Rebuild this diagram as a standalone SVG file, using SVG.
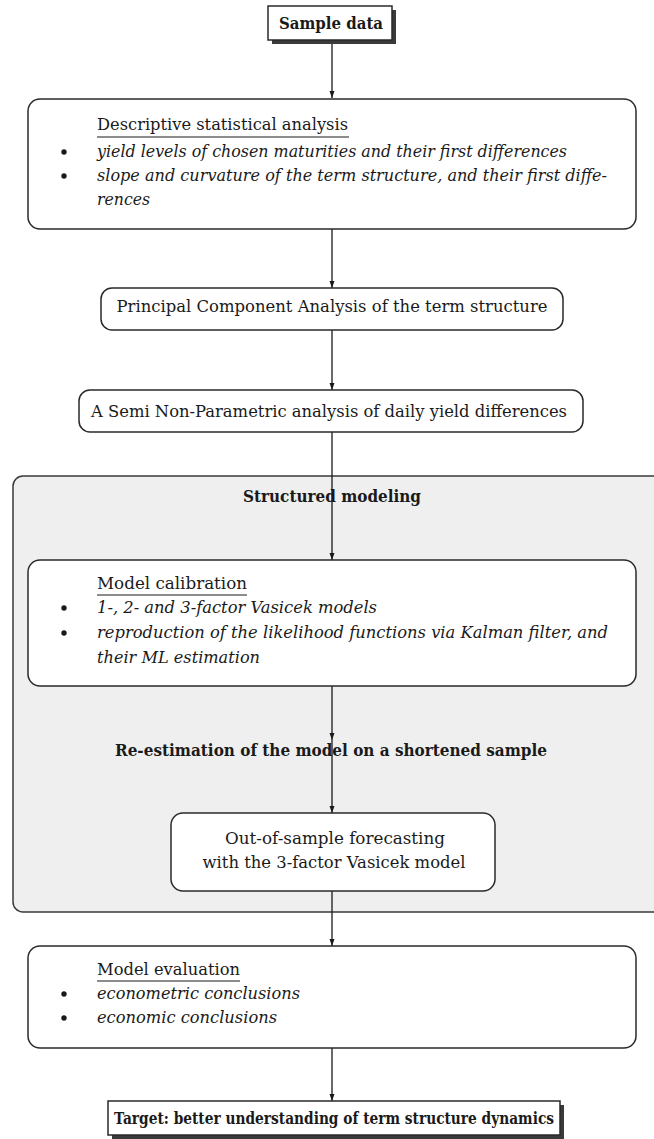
<svg xmlns="http://www.w3.org/2000/svg" width="654" height="1139" viewBox="0 0 654 1139">
<style>
.box{fill:#fff;stroke:#2a2a2a;stroke-width:1.5}
.shadow{fill:#3a3a3a}
.cont{fill:#efefef;stroke:#3a3a3a;stroke-width:1.5}
.t{font-family:"DejaVu Serif","Liberation Serif",serif;font-size:16px;fill:#1a1a1a}
.b{font-weight:bold}
.i{font-style:italic}
.c{text-anchor:middle}
.ul{stroke:#1a1a1a;stroke-width:1.2}
.ln{stroke:#1a1a1a;stroke-width:1.3;fill:none}
.dot{fill:#1a1a1a}
</style>
<defs>
<marker id="ad" markerWidth="8" markerHeight="8" refX="4" refY="8" markerUnits="userSpaceOnUse" viewBox="0 0 8 8">
<path d="M1.5,1 L4,8 L6.5,1 Z" fill="#1a1a1a"/>
</marker>
</defs>

<g id="structured-modeling">
<rect class="cont" x="13" y="476" width="680" height="436" rx="10"/>
<text class="t b c" x="332" y="502" textLength="178" lengthAdjust="spacingAndGlyphs">Structured modeling</text>
</g>

<g id="connectors">
<line class="ln" x1="332" y1="40" x2="332" y2="98" marker-end="url(#ad)"/>
<line class="ln" x1="332" y1="229" x2="332" y2="288" marker-end="url(#ad)"/>
<line class="ln" x1="332" y1="330" x2="332" y2="390" marker-end="url(#ad)"/>
<line class="ln" x1="332" y1="432" x2="332" y2="560" marker-end="url(#ad)"/>
<line class="ln" x1="332" y1="686" x2="332" y2="740" marker-end="url(#ad)"/>
<line class="ln" x1="332" y1="740" x2="332" y2="813" marker-end="url(#ad)"/>
<line class="ln" x1="332" y1="891" x2="332" y2="946" marker-end="url(#ad)"/>
<line class="ln" x1="332" y1="1048" x2="332" y2="1101" marker-end="url(#ad)"/>
</g>

<g id="sample-data">
<rect class="shadow" x="272" y="10" width="124" height="34"/>
<rect class="box" x="268" y="6" width="124" height="34"/>
<text class="t b c" x="331" y="29" textLength="104" lengthAdjust="spacingAndGlyphs">Sample data</text>
</g>

<g id="descriptive">
<rect class="box" x="28" y="99" width="608" height="130" rx="12"/>
<text class="t" x="97" y="130" textLength="251" lengthAdjust="spacingAndGlyphs">Descriptive statistical analysis</text>
<line class="ul" x1="97" y1="137" x2="349" y2="137"/>
<circle class="dot" cx="64" cy="152" r="2.7"/>
<text class="t i" x="97" y="157" textLength="470" lengthAdjust="spacingAndGlyphs">yield levels of chosen maturities and their first differences</text>
<circle class="dot" cx="64" cy="176" r="2.7"/>
<text class="t i" x="97" y="181" textLength="510" lengthAdjust="spacingAndGlyphs">slope and curvature of the term structure, and their first diffe-</text>
<text class="t i" x="97" y="205" textLength="53" lengthAdjust="spacingAndGlyphs">rences</text>
</g>

<g id="pca">
<rect class="box" x="101" y="288" width="462" height="42" rx="11"/>
<text class="t c" x="332" y="312" textLength="431" lengthAdjust="spacingAndGlyphs">Principal Component Analysis of the term structure</text>
</g>

<g id="snp">
<rect class="box" x="79" y="390" width="504" height="42" rx="11"/>
<text class="t c" x="329" y="417" textLength="476" lengthAdjust="spacingAndGlyphs">A Semi Non-Parametric analysis of daily yield differences</text>
</g>

<g id="calibration">
<rect class="box" x="28" y="560" width="608" height="126" rx="12"/>
<text class="t" x="97" y="589" textLength="150" lengthAdjust="spacingAndGlyphs">Model calibration</text>
<line class="ul" x1="97" y1="595" x2="247" y2="595"/>
<circle class="dot" cx="64" cy="608" r="2.7"/>
<text class="t i" x="97" y="613" textLength="280" lengthAdjust="spacingAndGlyphs">1-, 2- and 3-factor Vasicek models</text>
<circle class="dot" cx="64" cy="633" r="2.7"/>
<text class="t i" x="97" y="638" textLength="511" lengthAdjust="spacingAndGlyphs">reproduction of the likelihood functions via Kalman filter, and</text>
<text class="t i" x="97" y="663" textLength="163" lengthAdjust="spacingAndGlyphs">their ML estimation</text>
</g>

<g id="reestimation">
<text class="t b c" x="331" y="756" textLength="432" lengthAdjust="spacingAndGlyphs">Re-estimation of the model on a shortened sample</text>
</g>

<g id="forecasting">
<rect class="box" x="171" y="813" width="324" height="78" rx="12"/>
<text class="t c" x="335" y="844" textLength="220" lengthAdjust="spacingAndGlyphs">Out-of-sample forecasting</text>
<text class="t c" x="334" y="868" textLength="263" lengthAdjust="spacingAndGlyphs">with the 3-factor Vasicek model</text>
</g>

<g id="evaluation">
<rect class="box" x="28" y="946" width="608" height="102" rx="12"/>
<text class="t" x="97" y="975" textLength="143" lengthAdjust="spacingAndGlyphs">Model evaluation</text>
<line class="ul" x1="97" y1="981" x2="240" y2="981"/>
<circle class="dot" cx="64" cy="994" r="2.7"/>
<text class="t i" x="97" y="999" textLength="203" lengthAdjust="spacingAndGlyphs">econometric conclusions</text>
<circle class="dot" cx="64" cy="1018" r="2.7"/>
<text class="t i" x="97" y="1023" textLength="180" lengthAdjust="spacingAndGlyphs">economic conclusions</text>
</g>

<g id="target">
<rect class="shadow" x="112" y="1105" width="452" height="34"/>
<rect class="box" x="108" y="1101" width="452" height="34"/>
<text class="t b c" x="334" y="1124" textLength="440" lengthAdjust="spacingAndGlyphs">Target: better understanding of term structure dynamics</text>
</g>
</svg>
